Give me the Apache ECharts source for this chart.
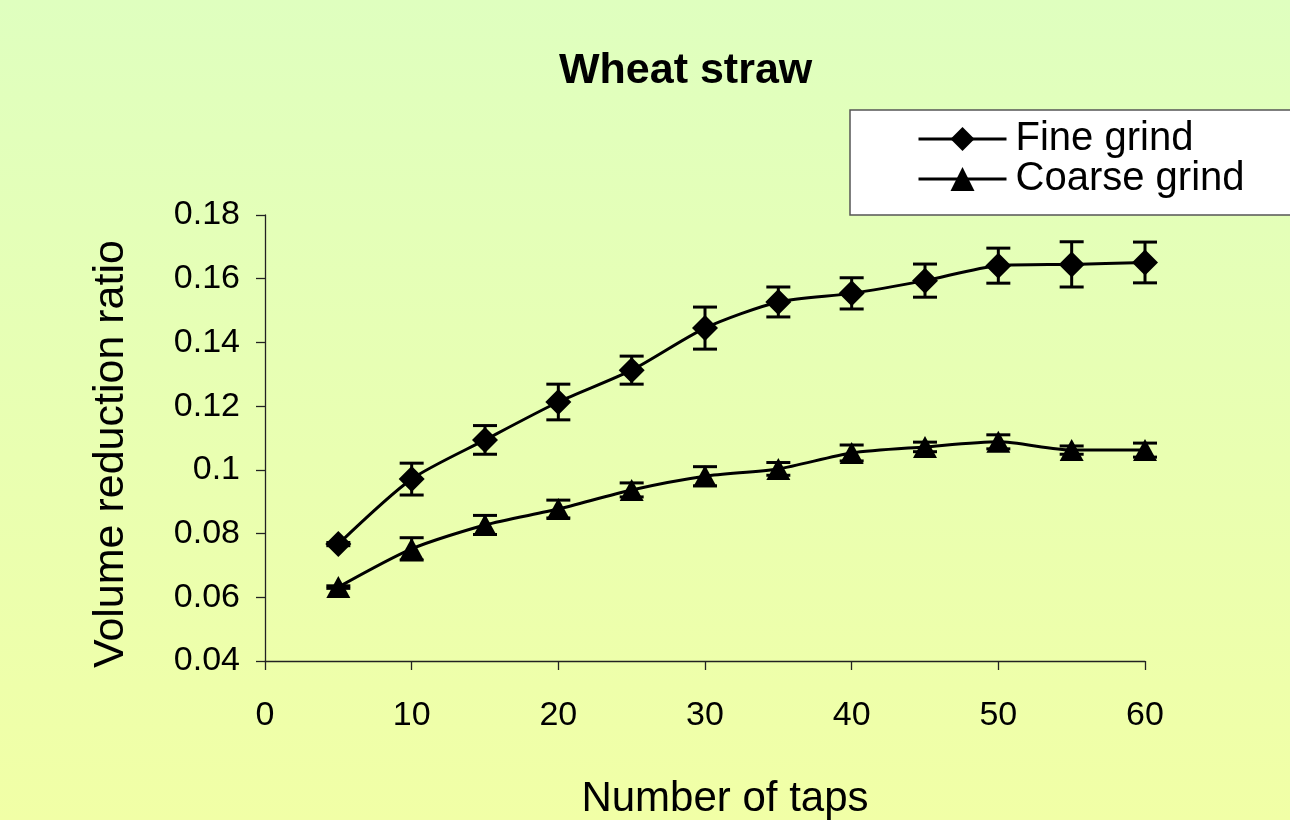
<!DOCTYPE html>
<html>
<head>
<meta charset="utf-8">
<script src="https://cdn.jsdelivr.net/npm/echarts@6/dist/echarts.min.js"></script>
<style>
html,body{margin:0;padding:0;}
#chart{width:1290px;height:820px;}
</style>
</head>
<body>
<div id="chart"></div>
<script>
const taps = [5, 10, 15, 20, 25, 30, 35, 40, 45, 50, 55, 60];
const fineGrind = [0.0767, 0.0971, 0.1094, 0.1213, 0.1313, 0.1445, 0.1527, 0.1554, 0.1594, 0.1641, 0.1645, 0.1651];
const fineErr = [0.0005, 0.005, 0.0045, 0.0056, 0.0044, 0.0066, 0.0047, 0.0049, 0.0052, 0.0055, 0.0071, 0.0064];
const coarseGrind = [0.0632, 0.0752, 0.0827, 0.0877, 0.0937, 0.098, 0.1003, 0.1053, 0.1072, 0.1088, 0.1062, 0.1062];
const coarseErr = [0.0004, 0.0035, 0.003, 0.0028, 0.0022, 0.003, 0.002, 0.0025, 0.0015, 0.0022, 0.0013, 0.0022];
const yTicks = [0.04, 0.06, 0.08, 0.1, 0.12, 0.14, 0.16, 0.18];
const xTicks = [0, 10, 20, 30, 40, 50, 60];

const FONT = 'Liberation Sans, Arial, sans-serif';

function pairs(xs, ys) { return xs.map((x, i) => [x, ys[i]]); }
function errData(xs, ys, es) { return xs.map((x, i) => [x, ys[i] - es[i], ys[i] + es[i]]); }

function errRender(params, api) {
  const x = api.value(0);
  const lo = api.coord([x, api.value(1)]);
  const hi = api.coord([x, api.value(2)]);
  const half = 12;
  const style = { stroke: '#000', lineWidth: 3, fill: null };
  return {
    type: 'group',
    children: [
      { type: 'line', shape: { x1: lo[0], y1: lo[1], x2: hi[0], y2: hi[1] }, style },
      { type: 'line', shape: { x1: lo[0] - half, y1: lo[1], x2: lo[0] + half, y2: lo[1] }, style },
      { type: 'line', shape: { x1: hi[0] - half, y1: hi[1], x2: hi[0] + half, y2: hi[1] }, style }
    ]
  };
}

const chart = echarts.init(document.getElementById('chart'), null, { renderer: 'canvas' });
chart.setOption({
  animation: false,
  backgroundColor: {
    type: 'linear', x: 0, y: 0, x2: 0, y2: 1,
    colorStops: [{ offset: 0, color: '#DFFFBF' }, { offset: 1, color: '#F1FFA6' }]
  },
  title: {
    text: 'Wheat straw',
    left: 554, top: 45,
    textStyle: { fontFamily: FONT, fontSize: 43, fontWeight: 'bold', color: '#000' }
  },
  legend: {
    orient: 'vertical',
    left: 850, top: 110,
    padding: [9, 80, 16, 67],
    backgroundColor: '#fff',
    borderColor: '#555',
    borderWidth: 1.5,
    itemWidth: 88, itemHeight: 30,
    itemGap: 0,
    data: ['Fine grind', 'Coarse grind'],
    lineStyle: { width: 3, color: '#000' },
    textStyle: { fontFamily: FONT, fontSize: 40, color: '#000', lineHeight: 39, padding: [0, 0, 0, 4] }
  },
  grid: { left: 265, right: 145, top: 215, bottom: 159, containLabel: false, outerBoundsMode: 'none' },
  xAxis: {
    type: 'value', min: 0, max: 60, interval: 10,
    name: 'Number of taps', nameLocation: 'middle', nameGap: 117,
    nameTextStyle: { fontFamily: FONT, fontSize: 42, color: '#000', padding: [0, 0, 0, 40] },
    axisLine: { show: true, lineStyle: { color: '#222', width: 1.3 } },
    axisTick: { show: true, inside: false, length: 9, lineStyle: { color: '#222', width: 1.3 } },
    axisLabel: { fontFamily: FONT, fontSize: 34, color: '#000', margin: 38,
      formatter: v => (xTicks.indexOf(v) >= 0 ? String(v) : '') },
    splitLine: { show: false }
  },
  yAxis: {
    type: 'value', min: 0.04, max: 0.18, interval: 0.02,
    name: 'Volume reduction ratio', nameLocation: 'middle', nameGap: 132,
    nameTextStyle: { fontFamily: FONT, fontSize: 43, color: '#000', padding: [0, 32, 0, 0] },
    axisLine: { show: true, lineStyle: { color: '#222', width: 1.3 } },
    axisTick: { show: true, inside: false, length: 9, lineStyle: { color: '#222', width: 1.3 } },
    axisLabel: { fontFamily: FONT, fontSize: 34, color: '#000', margin: 25,
      formatter: v => { const r = Math.round(v * 100) / 100; return yTicks.indexOf(r) >= 0 ? String(r) : ''; } },
    splitLine: { show: false }
  },
  series: [
    {
      name: 'Fine grind', type: 'line', data: pairs(taps, fineGrind),
      smooth: 0.25, symbol: 'diamond', symbolSize: [26, 26],
      lineStyle: { color: '#000', width: 3 }, itemStyle: { color: '#000' }, z: 3
    },
    {
      name: 'Coarse grind', type: 'line', data: pairs(taps, coarseGrind),
      smooth: 0.25, symbol: 'triangle', symbolSize: [24, 22],
      lineStyle: { color: '#000', width: 3 }, itemStyle: { color: '#000' }, z: 3
    },
    {
      type: 'custom', renderItem: errRender, data: errData(taps, fineGrind, fineErr),
      encode: { x: 0, y: [1, 2] }, z: 4, silent: true
    },
    {
      type: 'custom', renderItem: errRender, data: errData(taps, coarseGrind, coarseErr),
      encode: { x: 0, y: [1, 2] }, z: 4, silent: true
    }
  ]
});
</script>
</body>
</html>
